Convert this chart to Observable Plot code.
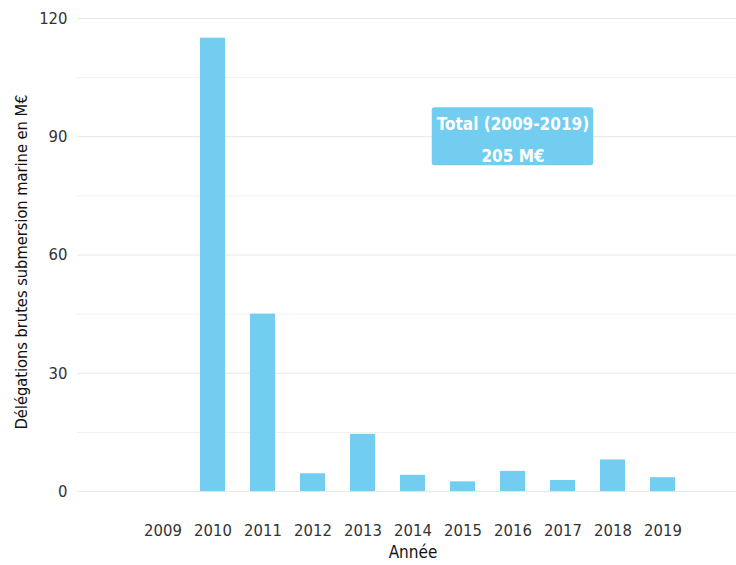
<!DOCTYPE html>
<html>
<head>
<meta charset="utf-8">
<script src="https://cdn.jsdelivr.net/npm/d3@7"></script>
<script src="https://cdn.jsdelivr.net/npm/@observablehq/plot@0.6"></script>
<style>
  html, body { margin: 0; padding: 0; background: #fff; }
  #chart svg { display: block; }
</style>
</head>
<body>
<div id="chart"></div>
<script>
const years = ["2009","2010","2011","2012","2013","2014","2015","2016","2017","2018","2019"];
const values = [0, 115, 45, 4.5, 14.5, 4.1, 2.45, 5.1, 2.8, 8.0, 3.5];
const yTicks = [0, 30, 60, 90, 120];
const yMinor = [15, 45, 75, 105];
const yLabel = "Délégations brutes submersion marine en M€";
const xLabel = "Année";
const annotationLines = ["Total (2009-2019)", "205 M€"];
const annotationYear = "2016";
const annotationValue = 90;

const data = years.map((y, i) => ({year: y, value: values[i]}));
const font = "'Liberation Sans Narrow', 'DejaVu Sans Condensed', 'Roboto', sans-serif";
const barColor = "#72cdf0";

const chart = Plot.plot({
  width: 736,
  height: 565,
  marginLeft: 77,
  marginRight: 0,
  marginTop: 18,
  marginBottom: 74,
  style: {fontFamily: font, fontSize: "16px", color: "#333", background: "#fff", fontStretch: "condensed"},
  x: {domain: years, range: [145.8, 679.2], paddingInner: 0.5, paddingOuter: 0, label: null},
  y: {domain: [0, 120], label: null},
  marks: [
    Plot.ruleY(yMinor, {stroke: "#f1f1f1", strokeWidth: 1}),
    Plot.ruleY(yTicks, {stroke: "#e6e6e6", strokeWidth: 1}),
    Plot.axisY(yTicks, {tickSize: 0, tickPadding: 10, fontSize: 16.5, fill: "#333", label: null}),
    Plot.axisX({tickSize: 0, tickPadding: 33, fontSize: 16.5, fill: "#333", label: null}),
    Plot.barY(data, {x: "year", y: "value", fill: barColor}),
    Plot.barY([annotationValue], {x: () => annotationYear, y1: d => d - 7.35, y2: d => d + 7.35, fill: barColor, insetLeft: -68.25, insetRight: -68.25, rx: 3}),
    Plot.text([annotationLines.join("\n")], {x: () => annotationYear, y: () => annotationValue, dy: -1, text: d => d, fill: "#fff", fontSize: 17, fontWeight: "bold", lineHeight: 1.9}),
    Plot.text([yLabel], {frameAnchor: "left", textAnchor: "middle", rotate: -90, dx: -56, dy: 7, text: d => d, fontSize: 16.3, fill: "#111"}),
    Plot.text([xLabel], {x: () => "2014", frameAnchor: "bottom", dy: 66, text: d => d, fontSize: 17, fill: "#111"})
  ]
});
document.getElementById("chart").appendChild(chart);
</script>
</body>
</html>
